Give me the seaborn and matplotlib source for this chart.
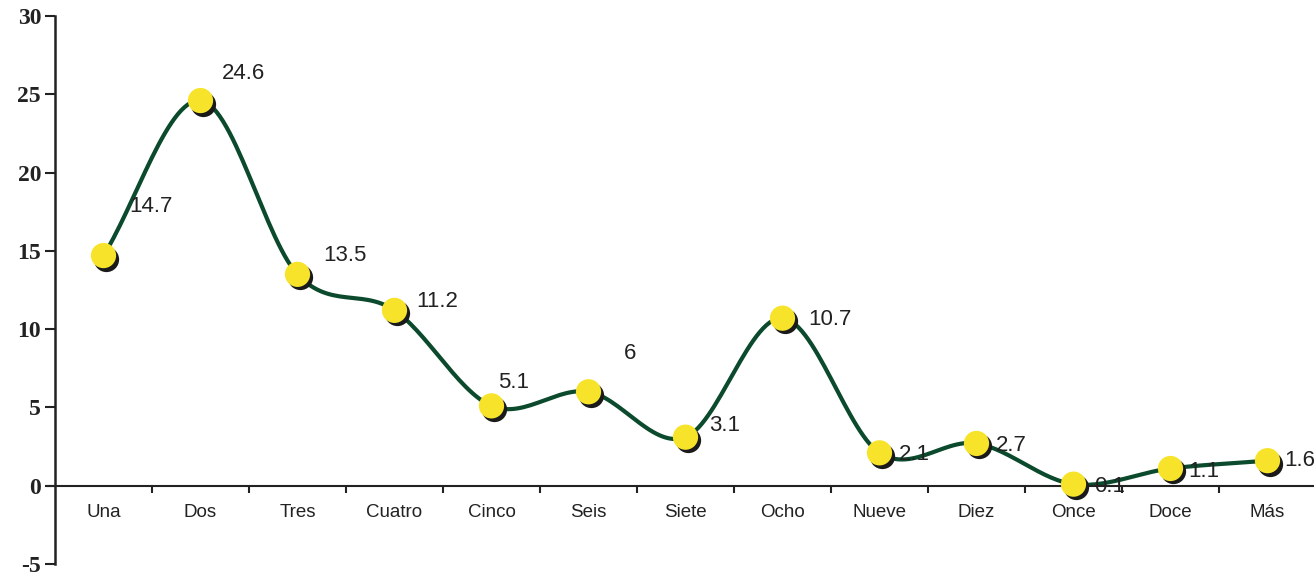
import numpy as np
import pandas as pd
import matplotlib
matplotlib.use("Agg")
import matplotlib.pyplot as plt
import matplotlib.transforms as mtrans
import seaborn as sns

categories = ["Una", "Dos", "Tres", "Cuatro", "Cinco", "Seis", "Siete",
              "Ocho", "Nueve", "Diez", "Once", "Doce", "Más"]
values = [14.7, 24.6, 13.5, 11.2, 5.1, 6.0, 3.1, 10.7, 2.1, 2.7, 0.1, 1.1, 1.6]
value_labels = ["14.7", "24.6", "13.5", "11.2", "5.1", "6", "3.1",
                "10.7", "2.1", "2.7", "0.1", "1.1", "1.6"]
y_ticks = [-5, 0, 5, 10, 15, 20, 25, 30]

# label offsets in pixels (dx right, dy up) - style only
label_offsets = [(47, 49), (43, 27), (47, 19), (43, 9), (22, 23), (42, 38),
                 (39, 12), (47, -1), (35, -2), (35, -2), (36, -2), (33, -3), (32, 0)]

sns.set_theme(style="white")
plt.rcParams["font.family"] = ["Liberation Sans", "DejaVu Sans"]

DPI = 100
fig = plt.figure(figsize=(13.14, 5.76), dpi=DPI)
ax = fig.add_axes([55 / 1314, 12 / 576, (1316 - 55) / 1314, (564 - 16) / 576])

df = pd.DataFrame({"cat": categories, "x": np.arange(len(categories)), "y": values})

# smooth (Catmull-Rom) curve through the data points
def catmull_rom(x, y, n=30):
    x = np.asarray(x, float); y = np.asarray(y, float)
    px = np.concatenate([[2 * x[0] - x[1]], x, [2 * x[-1] - x[-2]]])
    py = np.concatenate([[2 * y[0] - y[1]], y, [2 * y[-1] - y[-2]]])
    xs, ys = [], []
    t = np.linspace(0, 1, n, endpoint=False)
    for i in range(1, len(px) - 2):
        for arr, out in ((px, xs), (py, ys)):
            p0, p1, p2, p3 = arr[i - 1], arr[i], arr[i + 1], arr[i + 2]
            out.append(0.5 * ((2 * p1) + (-p0 + p2) * t +
                              (2 * p0 - 5 * p1 + 4 * p2 - p3) * t ** 2 +
                              (-p0 + 3 * p1 - 3 * p2 + p3) * t ** 3))
    xs = np.concatenate(xs + [[x[-1]]]); ys = np.concatenate(ys + [[y[-1]]])
    return xs, ys

sx, sy = catmull_rom(df["x"], df["y"])
smooth = pd.DataFrame({"x": sx, "y": sy})
sns.lineplot(data=smooth, x="x", y="y", ax=ax, color="#0b4a2c", lw=3.0,
             sort=False, estimator=None, zorder=2)

# marker shadows then markers
shadow_tr = ax.transData + mtrans.ScaledTranslation(2.5 / DPI, -3 / DPI, fig.dpi_scale_trans)
ax.scatter(df["x"], df["y"], s=330, color="#1a1a1a", transform=shadow_tr,
           zorder=3, linewidths=0)
sns.scatterplot(data=df, x="x", y="y", ax=ax, s=330, color="#f7e42a",
                edgecolor="none", zorder=4)

for xi, yi, lab, (dx, dy) in zip(df["x"], df["y"], value_labels, label_offsets):
    ax.annotate(lab, (xi, yi), xytext=(dx * 72 / DPI, dy * 72 / DPI),
                textcoords="offset points", ha="center", va="center",
                fontsize=16, color="#222222", zorder=5)

ax.set_xlim(-0.5, len(categories) - 0.5)
ax.set_ylim(-5, 30)
ax.set_xlabel("")
ax.set_ylabel("")

ax.set_xticks(np.arange(len(categories)))
ax.set_xticks(np.arange(len(categories)) + 0.5, minor=True)
ax.set_xticklabels(categories)
ax.tick_params(axis="x", which="major", length=0, pad=13, labelsize=13.5,
               labelcolor="#222222")
ax.tick_params(axis="x", which="minor", length=5, width=1.5, direction="out",
               color="#222222", bottom=True)

ax.set_yticks(y_ticks)
ax.set_yticklabels([str(v) for v in y_ticks])
ax.tick_params(axis="y", which="major", length=7, width=1.5, direction="out",
               color="#222222", left=True, pad=3, labelsize=17,
               labelcolor="#222222")
for t in ax.get_yticklabels():
    t.set_fontfamily("Liberation Serif")
    t.set_fontweight("bold")

for s in ["top", "right"]:
    ax.spines[s].set_visible(False)
ax.spines["left"].set_color("#222222")
ax.spines["left"].set_linewidth(1.8)
ax.spines["bottom"].set_position(("data", 0))
ax.spines["bottom"].set_color("#222222")
ax.spines["bottom"].set_linewidth(1.5)
# small extension of the zero line to the left of the y axis
ax.plot([-0.58, -0.5], [0, 0], color="#222222", lw=1.5, clip_on=False, zorder=1)
ax.grid(False)

fig.savefig("out.png", dpi=DPI)
